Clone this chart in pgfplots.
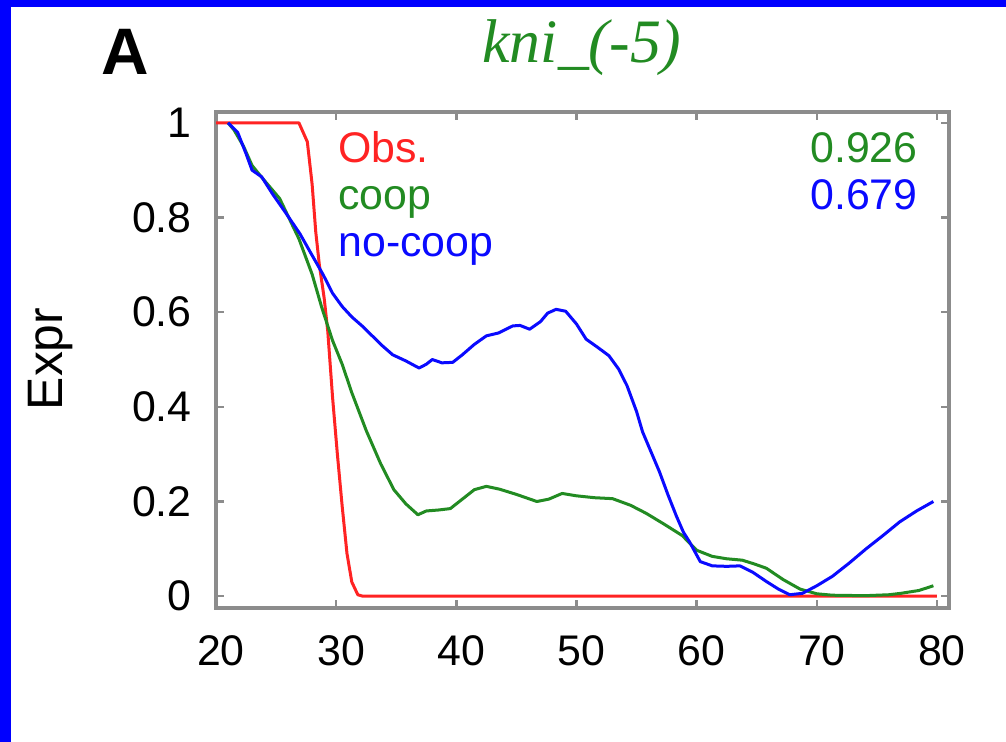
\documentclass[border=0pt]{standalone}
\usepackage{fontspec}
\setmainfont{Liberation Sans}
\newfontfamily\titlefont{Liberation Serif}
\usepackage{pgfplots}
\pgfplotsset{compat=1.18}
\definecolor{obsred}{RGB}{255,35,35}
\definecolor{coopgreen}{RGB}{34,139,34}
\definecolor{nocoopblue}{RGB}{10,10,255}
\definecolor{framegray}{RGB}{140,140,140}

\begin{document}
\begin{tikzpicture}[x=0.5bp,y=0.5bp]
% page in pixel units, origin bottom left
\fill[white] (0,0) rectangle (1006,742);
\fill[blue] (0,735) rectangle (1006,742);
\fill[blue] (0,0) rectangle (11,742);

\begin{axis}[
    at={(108bp,67bp)}, anchor=south west,
    scale only axis,
    width=366.5bp, height=248bp,
    xmin=20, xmax=81,
    ymin=-0.025, ymax=1.023,
    xtick={20,30,40,50,60,70,80},
    ytick={0,0.2,0.4,0.6,0.8,1},
    tick pos=both,
    tick align=inside,
    major tick length=4bp,
    tick style={framegray, line width=1.2bp},
    axis line style={framegray, line width=2bp},
    /pgf/number format/assume math mode=true,
    tick label style={font=\fontsize{21.5}{21.5}\selectfont},
    xticklabel style={anchor=north, inner sep=0pt, yshift=-13.5bp, xshift=2.5bp},
    yticklabel style={anchor=east, inner sep=0pt, xshift=-12bp},
    every axis plot/.append style={line width=1.5bp, line join=round},
]

\addplot[obsred] coordinates {
    (20,1) (26.9,1) (27.6,0.96) (28.0,0.87) (28.3,0.77) (28.6,0.70)
    (29.0,0.63) (29.3,0.56) (29.7,0.42) (30.1,0.30) (30.5,0.19)
    (30.9,0.09) (31.3,0.03) (31.8,0.003) (32.2,0) (80,0)
};

\addplot[coopgreen] coordinates {
    (21,1) (21.5,0.985) (22.3,0.95) (23.0,0.91) (23.8,0.885) (25.3,0.84)
    (26.9,0.755) (28.0,0.68) (28.8,0.61) (29.7,0.54) (30.5,0.49)
    (31.3,0.43) (32.5,0.35) (33.7,0.28) (34.8,0.225) (35.8,0.195)
    (36.8,0.172) (37.5,0.18) (38.5,0.182) (39.5,0.185) (40.5,0.205)
    (41.5,0.225) (42.5,0.232) (43.6,0.226) (45,0.215) (46.7,0.2)
    (47.7,0.205) (48.8,0.217) (50,0.212) (51.5,0.208) (53,0.206)
    (54.5,0.192) (55.8,0.175) (57.3,0.152) (58.8,0.128) (60,0.097)
    (61.3,0.084) (62.5,0.079) (63.8,0.076) (64.8,0.068) (65.8,0.059)
    (67.2,0.035) (68.6,0.015) (70,0.005) (71.3,0.002) (74,0.001)
    (76,0.003) (77,0.006) (78.5,0.012) (79.7,0.022)
};

\addplot[nocoopblue] coordinates {
    (21,1) (21.8,0.98) (22.5,0.935) (23,0.9) (23.8,0.886) (24.7,0.85)
    (25.8,0.81) (27,0.765) (28,0.72) (28.9,0.68) (29.7,0.64) (30.5,0.612)
    (31.3,0.59) (32.2,0.57) (33,0.55) (33.8,0.53) (34.7,0.51) (35.8,0.497)
    (36.9,0.482) (37.5,0.49) (38,0.50) (38.8,0.493) (39.7,0.494)
    (40.5,0.51) (41.5,0.532) (42.5,0.55) (43.5,0.556) (44.7,0.571)
    (45.3,0.572) (46.1,0.564) (47,0.58) (47.6,0.598) (48.3,0.606)
    (49.1,0.602) (50,0.575) (50.8,0.543) (51.8,0.525) (52.7,0.508)
    (53.5,0.48) (54.2,0.445) (55,0.39) (55.5,0.347) (56.2,0.305)
    (56.9,0.263) (57.6,0.215) (58.3,0.17) (58.9,0.135) (59.4,0.115)
    (60.3,0.073) (61.3,0.064) (62.5,0.063) (63.6,0.064) (64.7,0.05)
    (65.8,0.031) (66.8,0.015) (67.75,0.003) (68.8,0.006) (70,0.022)
    (71.3,0.042) (72.7,0.07) (74.1,0.1) (75.5,0.128) (76.9,0.157)
    (78.3,0.18) (79.7,0.2)
};
\end{axis}

% panel letter, title, y label
\node[anchor=base, font=\fontsize{33}{33}\selectfont\bfseries] at (125,667) {A};
\node[anchor=base, text=coopgreen, font=\fontsize{31}{31}\selectfont\titlefont\itshape] at (582,679) {kni\_(-5)};
\node[rotate=90, anchor=base, font=\fontsize{25}{25}\selectfont] at (63,383) {Expr};

% series names and scores
\node[anchor=base west, inner sep=0pt, text=obsred, font=\fontsize{21.5}{21.5}\selectfont] at (338,579) {Obs.};
\node[anchor=base west, inner sep=0pt, text=coopgreen, font=\fontsize{21.5}{21.5}\selectfont] at (338,532) {coop};
\node[anchor=base west, inner sep=0pt, text=nocoopblue, font=\fontsize{21.5}{21.5}\selectfont] at (338,485) {no-coop};
\node[anchor=base east, inner sep=0pt, text=coopgreen, font=\fontsize{21.5}{21.5}\selectfont] at (918,579) {0.926};
\node[anchor=base east, inner sep=0pt, text=nocoopblue, font=\fontsize{21.5}{21.5}\selectfont] at (918,532) {0.679};
\end{tikzpicture}
\end{document}
